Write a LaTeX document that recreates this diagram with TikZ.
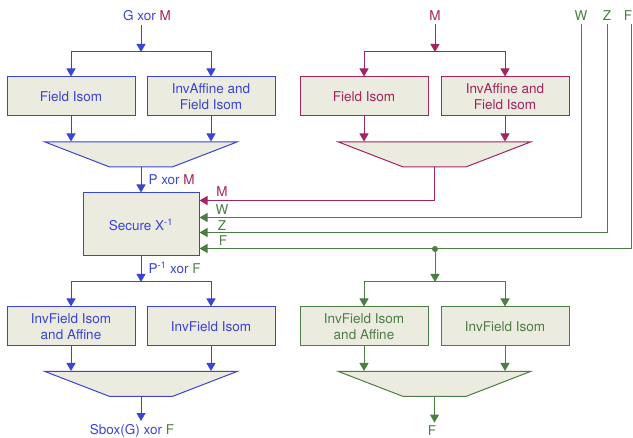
\documentclass[tikz,border=0pt]{standalone}
\usepackage{fontspec}
\setmainfont{TeX Gyre Heros}
\usepackage{tikz}
\usetikzlibrary{arrows.meta, shapes.geometric, calc}
\definecolor{xblue}{RGB}{58,68,214}
\definecolor{xmag}{RGB}{163,36,94}
\definecolor{xgreen}{RGB}{76,126,68}
\definecolor{boxfill}{RGB}{236,235,224}

\tikzset{
	wire/.style={line width=1pt, -{Triangle[width=9pt,length=8pt]}},
	isobox/.style={draw, fill=boxfill, line width=1pt, minimum width=128pt, minimum height=39pt, align=center, inner sep=1pt},
	muxbox/.style={draw, fill=boxfill, line width=1pt, trapezium, shape border rotate=180, trapezium stretches=true, trapezium angle=44, minimum width=192pt, minimum height=25pt, inner sep=2pt},
	lbl/.style={inner sep=3.3pt}
}

\begin{document}
\begin{tikzpicture}[x=1pt, y=1pt, font=\fontsize{13.5}{16.5}\selectfont]
	\useasboundingbox (0,0) rectangle (633,-438);

	% masked data, blue
	\node[lbl, xblue] (gxm) at (147,-16) {G xor {\color{xmag}M}};
	\coordinate (sG) at (141,-52);
	\node[xblue, isobox] (isoL) at (71,-96.5) {Field Isom};
	\node[xblue, isobox] (isoR) at (211,-96.5) {InvAffine and\\Field Isom};
	\node[xblue, muxbox] (muxG) at (141,-154.5) {};

	\draw[wire, xblue] (gxm.south -| sG) -- (sG);
	\draw[wire, xblue] (sG) -| (isoL);
	\draw[wire, xblue] (sG) -| (isoR);
	\draw[wire, xblue] (isoL) -- (isoL |- muxG.north);
	\draw[wire, xblue] (isoR) -- (isoR |- muxG.north);

	% mask, magenta
	\node[lbl, xmag] (mtop) at (435,-16) {M};
	\coordinate (sM) at (435,-52);
	\node[xmag, isobox] (misoL) at (364,-96.5) {Field Isom};
	\node[xmag, isobox] (misoR) at (505,-96.5) {InvAffine and\\Field Isom};
	\node[xmag, muxbox] (muxM) at (434.5,-154.5) {};

	\draw[wire, xmag] (mtop) -- (sM);
	\draw[wire, xmag] (sM) -| (misoL);
	\draw[wire, xmag] (sM) -| (misoR);
	\draw[wire, xmag] (misoL) -- (misoL |- muxM.north);
	\draw[wire, xmag] (misoR) -- (misoR |- muxM.north);

	% secure inversion
	\node[xblue, isobox, minimum width=116pt, minimum height=63pt] (sec) at (141,-224.5) {Secure X\textsuperscript{-1}};
	\draw[wire, xblue] (muxG) -- (sec);
	\node[lbl, xblue, anchor=west] (pxm) at (145,-180) {P xor {\color{xmag}M}};

	\node[lbl, xgreen] (wtop) at (581,-16) {W};
	\node[lbl, xgreen] (ztop) at (607,-16) {Z};
	\node[lbl, xgreen] (ftop) at (628,-16) {F};

	\draw[wire, xmag] (muxM) |- ([yshift=-8pt]sec.north east);
	\draw[wire, xgreen] (wtop) |- ([yshift=-25pt]sec.north east);
	\draw[wire, xgreen] (ztop) |- ([yshift=-40pt]sec.north east);
	\draw[wire, xgreen] (ftop.south -| 631,0) |- ([yshift=-56pt]sec.north east);

	\node[lbl, xmag] (lM) at (222,-192) {M};
	\node[lbl, xgreen] (lW) at (222,-210) {W};
	\node[lbl, xgreen] (lZ) at (222,-226) {Z};
	\node[lbl, xgreen] (lF) at (223,-241) {F};

	% unmasking, blue
	\coordinate (sP) at (141,-282);
	\node[lbl, xblue, anchor=west] (pinv) at (145,-268) {P\textsuperscript{-1} xor {\color{xgreen}F}};
	\node[xblue, isobox] (invL) at (71,-326.5) {InvField Isom\\and Affine};
	\node[xblue, isobox] (invR) at (211,-326.5) {InvField Isom};
	\node[xblue, muxbox] (muxS) at (141,-384) {};
	\node[lbl, xblue] (sbox) at (132,-431) {Sbox(G) xor {\color{xgreen}F}};

	\draw[wire, xblue] (sec) -- (sP);
	\draw[wire, xblue] (sP) -| (invL);
	\draw[wire, xblue] (sP) -| (invR);
	\draw[wire, xblue] (invL) -- (invL |- muxS.north);
	\draw[wire, xblue] (invR) -- (invR |- muxS.north);
	\draw[wire, xblue] (muxS) -- (muxS.south |- sbox.north);

	% new mask F, green
	\coordinate (fdot) at (435,-249);
	\coordinate (sF) at (435,-282);
	\node[xgreen, isobox] (finvL) at (364,-326.5) {InvField Isom\\and Affine};
	\node[xgreen, isobox] (finvR) at (505,-326.5) {InvField Isom};
	\node[xgreen, muxbox] (muxF) at (434.5,-384) {};
	\node[lbl, xgreen] (fout) at (432,-431) {F};

	\fill[xgreen] (fdot) circle (3pt);
	\draw[wire, xgreen] (fdot) -- (sF);
	\draw[wire, xgreen] (sF) -| (finvL);
	\draw[wire, xgreen] (sF) -| (finvR);
	\draw[wire, xgreen] (finvL) -- (finvL |- muxF.north);
	\draw[wire, xgreen] (finvR) -- (finvR |- muxF.north);
	\draw[wire, xgreen] (muxF) -- (muxF.south |- fout.north);

\end{tikzpicture}
\end{document}
